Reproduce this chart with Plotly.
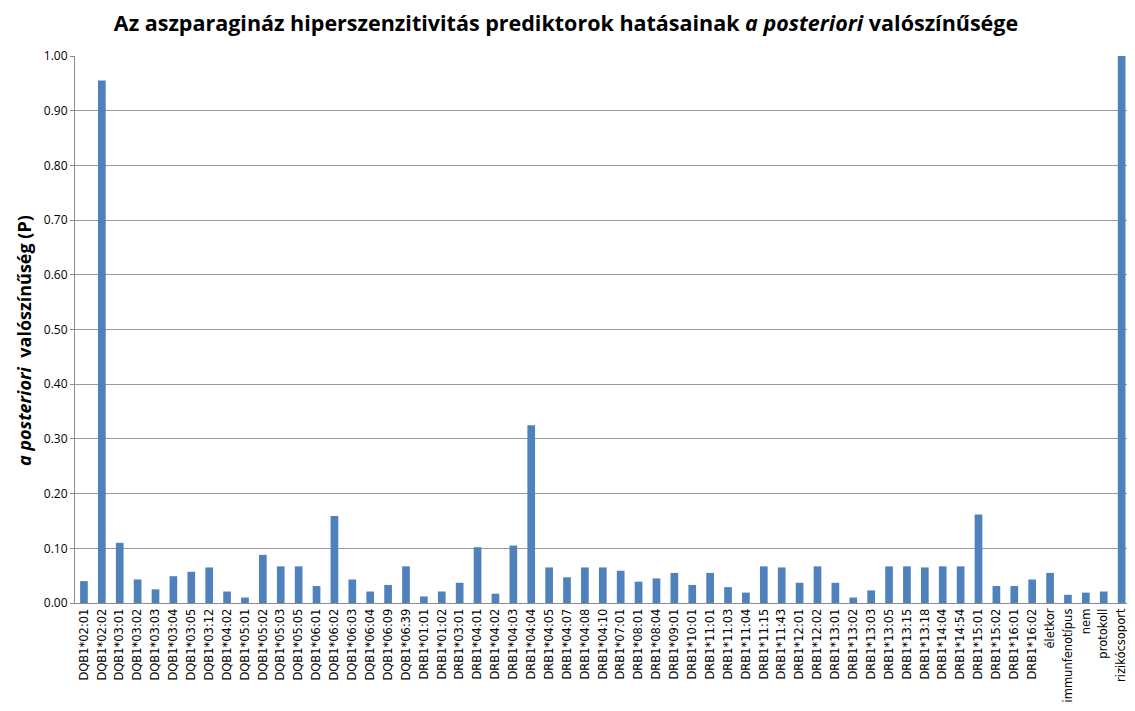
import plotly.graph_objects as go

categories = [
    "DQB1*02:01", "DQB1*02:02", "DQB1*03:01", "DQB1*03:02", "DQB1*03:03", "DQB1*03:04",
    "DQB1*03:05", "DQB1*03:12", "DQB1*04:02", "DQB1*05:01", "DQB1*05:02", "DQB1*05:03",
    "DQB1*05:05", "DQB1*06:01", "DQB1*06:02", "DQB1*06:03", "DQB1*06:04", "DQB1*06:09",
    "DQB1*06:39",
    "DRB1*01:01", "DRB1*01:02", "DRB1*03:01", "DRB1*04:01", "DRB1*04:02", "DRB1*04:03",
    "DRB1*04:04", "DRB1*04:05", "DRB1*04:07", "DRB1*04:08", "DRB1*04:10", "DRB1*07:01",
    "DRB1*08:01", "DRB1*08:04", "DRB1*09:01", "DRB1*10:01", "DRB1*11:01", "DRB1*11:03",
    "DRB1*11:04", "DRB1*11:15", "DRB1*11:43", "DRB1*12:01", "DRB1*12:02", "DRB1*13:01",
    "DRB1*13:02", "DRB1*13:03", "DRB1*13:05", "DRB1*13:15", "DRB1*13:18", "DRB1*14:04",
    "DRB1*14:54", "DRB1*15:01", "DRB1*15:02", "DRB1*16:01", "DRB1*16:02",
    "életkor", "immunfenotípus", "nem", "protokoll", "rizikócsoport",
]

values = [
    0.040, 0.955, 0.110, 0.043, 0.025, 0.049,
    0.057, 0.065, 0.021, 0.010, 0.088, 0.067,
    0.067, 0.031, 0.159, 0.043, 0.021, 0.033,
    0.067,
    0.012, 0.021, 0.037, 0.102, 0.017, 0.105,
    0.325, 0.065, 0.047, 0.065, 0.065, 0.059,
    0.039, 0.045, 0.055, 0.033, 0.055, 0.029,
    0.019, 0.067, 0.065, 0.037, 0.067, 0.037,
    0.010, 0.023, 0.067, 0.067, 0.065, 0.067,
    0.067, 0.162, 0.031, 0.031, 0.043,
    0.055, 0.015, 0.019, 0.021, 1.000,
]

y_ticks = [0.0, 0.1, 0.2, 0.3, 0.4, 0.5, 0.6, 0.7, 0.8, 0.9, 1.0]
title_text = "<b>Az aszparagináz hiperszenzitivitás prediktorok hatásainak <i>a posteriori</i> valószínűsége</b>"
ytitle_text = "<b><i>a posteriori</i>  valószínűség (P)</b>"

# page body has an 8px margin on every side; size the figure to fit inside it
OFF = 8
W, H = 1135 - 2 * OFF, 711 - 2 * OFF
ML, MR, MT, MB = 75 - OFF, 0, 56 - OFF, 711 - OFF - 603
PW, PH = W - ML - MR, H - MT - MB

fig = go.Figure(go.Bar(
    x=list(range(len(categories))),
    y=values,
    marker=dict(color="#4F81BD", line=dict(width=0)),
    width=0.43,
))

fig.update_layout(
    width=W, height=H,
    margin=dict(l=ML, r=MR, t=MT, b=MB, autoexpand=False),
    paper_bgcolor="white", plot_bgcolor="white",
    showlegend=False,
    font=dict(family="Open Sans", color="#000000"),
    title=dict(text=title_text, x=(566 - OFF) / W, xanchor="center",
               y=1 - (23 - OFF) / H, yanchor="middle",
               font=dict(family="Open Sans", size=21.5, color="#000000")),
    xaxis=dict(
        tickmode="array",
        tickvals=list(range(len(categories))),
        ticktext=categories,
        tickangle=-90,
        tickfont=dict(family="DejaVu Sans", size=11.5, color="#000000"),
        range=[-0.5, 58.3],
        showgrid=False,
        showline=True, linecolor="#8c8c8c", linewidth=1,
        ticks="", zeroline=False,
        automargin=False,
        ticklabeloverflow="allow",
    ),
    yaxis=dict(
        range=[0, 1.0],
        tickvals=y_ticks,
        tickformat=".2f",
        tickfont=dict(family="Open Sans", size=12, color="#000000"),
        showgrid=True, gridcolor="#9a9a9a", gridwidth=1,
        showline=True, linecolor="#8c8c8c", linewidth=1,
        ticks="outside", ticklen=4, tickcolor="#8c8c8c",
        zeroline=False,
        automargin=False,
    ),
    annotations=[dict(
        text=ytitle_text, textangle=-90,
        xref="paper", yref="paper",
        x=(24 - 75) / PW, y=1 - (341 - 56) / PH,
        xanchor="center", yanchor="middle", showarrow=False,
        font=dict(family="Open Sans", size=18, color="#000000"),
    )],
)

fig.write_html("out.html")
